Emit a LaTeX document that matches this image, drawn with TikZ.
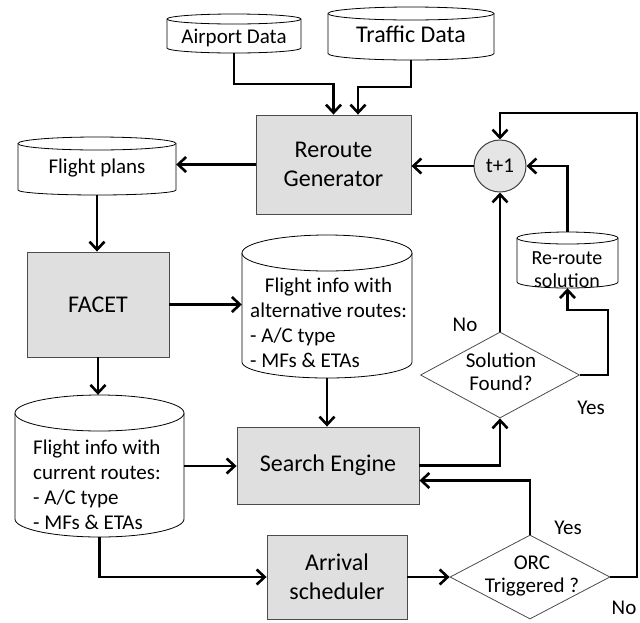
\documentclass[tikz,border=0pt]{standalone}
\usepackage{fontspec}
\setmainfont{Carlito}
\usetikzlibrary{arrows.meta,shapes.geometric}
\newcommand\mkcyl[7]{%
  \pgfmathsetmacro\cylhw{(#4-#2)/2}%
  \pgfmathsetmacro\cylcx{(#2+#4)/2}%
  \pgfmathsetmacro\cylcy{(#3+#5)/2}%
  \pgfmathsetmacro\cylw{#4-#2}%
  \pgfmathsetmacro\cylh{#5-#3}%
  \node[inner sep=0pt, minimum width=\cylw pt, minimum height=\cylh pt] (#1) at (\cylcx,\cylcy) {};
  \filldraw[cylst] (#2,{#3+#6}) -- (#2,{#5-#7}) arc[start angle=180,end angle=360,x radius=\cylhw pt,y radius=#7 pt] -- (#4,{#3+#6}) arc[start angle=0,end angle=180,x radius=\cylhw pt,y radius=#6 pt] -- cycle;
  \draw[cylst] (#2,{#3+#6}) arc[start angle=180,end angle=360,x radius=\cylhw pt,y radius=#6 pt];
}
\tikzset{
  cylst/.style={draw=black, fill=white, line width=0.8pt},
  boxst/.style={draw=black!70, fill=gray!25, line width=0.9pt, inner sep=0pt},
  dia/.style={diamond, draw=black!70, fill=white, line width=0.8pt, inner sep=0pt},
  arr/.style={line width=2.6pt, -{Straight Barb[length=8pt,width=15pt]}},
  f21/.style={font=\fontsize{21}{23}\selectfont, inner sep=0pt},
  f24/.style={font=\fontsize{24}{29}\selectfont, inner sep=0pt},
}
\begin{document}
\begin{tikzpicture}[x=1pt,y=-1pt]
\useasboundingbox (0,0) rectangle (640,622);
% cylinders
\mkcyl{ad}{167}{14}{301}{53}{5}{5}
\mkcyl{td}{328}{7}{494}{60}{6.5}{6.5}
\mkcyl{fp}{18}{137}{176}{195}{6.5}{5}
\mkcyl{alt}{242}{235}{412}{378}{18}{16}
\mkcyl{cur}{15}{395}{184}{537}{18}{18}
\mkcyl{rs}{517}{232}{618}{288}{6}{6}
\node[f21] (adt) at (234,38) {Airport Data};
\node[f24] (tdt) at (411,34) {Traffic Data};
\node[f21] (fpt) at (97,168) {Flight plans};
\node[inner sep=0pt, align=center, font=\fontsize{20}{23}\selectfont] (rst) at (567,270) {Re-route\\solution};
\node[inner sep=0pt, anchor=west, font=\fontsize{21}{25}\selectfont] (altt) at (250,324.5) {\begin{tabular}{@{}l@{}}\multicolumn{1}{@{}c@{}}{Flight info with}\\ alternative routes:\\ - A/C type\\ - MFs \& ETAs\end{tabular}};
\node[inner sep=0pt, anchor=west, align=left, font=\fontsize{21}{25}\selectfont] (curt) at (33,484.5) {Flight info with\\current routes:\\- A/C type\\- MFs \& ETAs};
% boxes
\node[boxst, f24, minimum width=155pt, minimum height=99pt, align=center] (rg) at (333.5,164.5) {Reroute\\Generator};
\node[boxst, f24, minimum width=142pt, minimum height=105pt] (fa) at (98,304.5) {FACET};
\node[boxst, f24, minimum width=182pt, minimum height=77pt] (se) at (328,465.5) {Search Engine};
\node[boxst, f24, minimum width=140pt, minimum height=84pt, align=center] (as) at (337,577) {Arrival\\scheduler};
\node[circle, draw=black!75, fill=gray!20, line width=1pt, minimum size=52pt, inner sep=0pt, f21] (t1) at (500,166) {t+1};
% diamonds
\node[dia, minimum width=159pt, minimum height=86pt] (sf) at (500,375) {};
\node[f21, align=center] (sft) at (501,372) {Solution\\Found?};
\node[dia, minimum width=160pt, minimum height=84pt] (od) at (530,577) {};
\node[f21, align=center] (odt) at (532,576) {ORC\\Triggered ?};
% labels
\node[f21] (no1) at (465,325) {No};
\node[f21] (yes1) at (591,408) {Yes};
\node[f21] (yes2) at (568,528) {Yes};
\node[f21] (no2) at (624,608) {No};
% connectors
\coordinate (j1) at (234,84);
\coordinate (j2) at (358,87);
\coordinate (k1) at (608,310);
\coordinate (k2) at (637,113);
\draw[arr] (ad.south) -- (j1) -| (rg.north);
\draw[arr] (td.south) |- (j2) -- (j2 |- rg.north);
\draw[arr] (rg.west) -- (rg.west -| fp.east);
\draw[arr] (t1.west) -- (t1.west -| rg.east);
\draw[arr] (fp.south) -- (fp.south |- fa.north);
\draw[arr] (fa.east) -- (fa.east -| alt.west);
\draw[arr] (fa.south) -- (fa.south |- cur.north);
\draw[arr] (alt.south) -- (alt.south |- se.north);
\draw[arr] (cur.east) -- (cur.east -| se.west);
\draw[arr] (se.east) -| (sf.south);
\draw[arr] (sf.north) -- (t1.south);
\draw[arr] (sf.east) -| (k1) -| (rs.south);
\draw[arr] (rs.north) |- (t1.east);
\draw[arr] (od.east) -| (k2) -| (t1.north);
\draw[arr] (od.north) |- ([yshift=-15pt]se.east);
\draw[arr] (cur.south) |- (as.west);
\draw[arr] (as.east) -- (as.east -| od.west);
\end{tikzpicture}
\end{document}
